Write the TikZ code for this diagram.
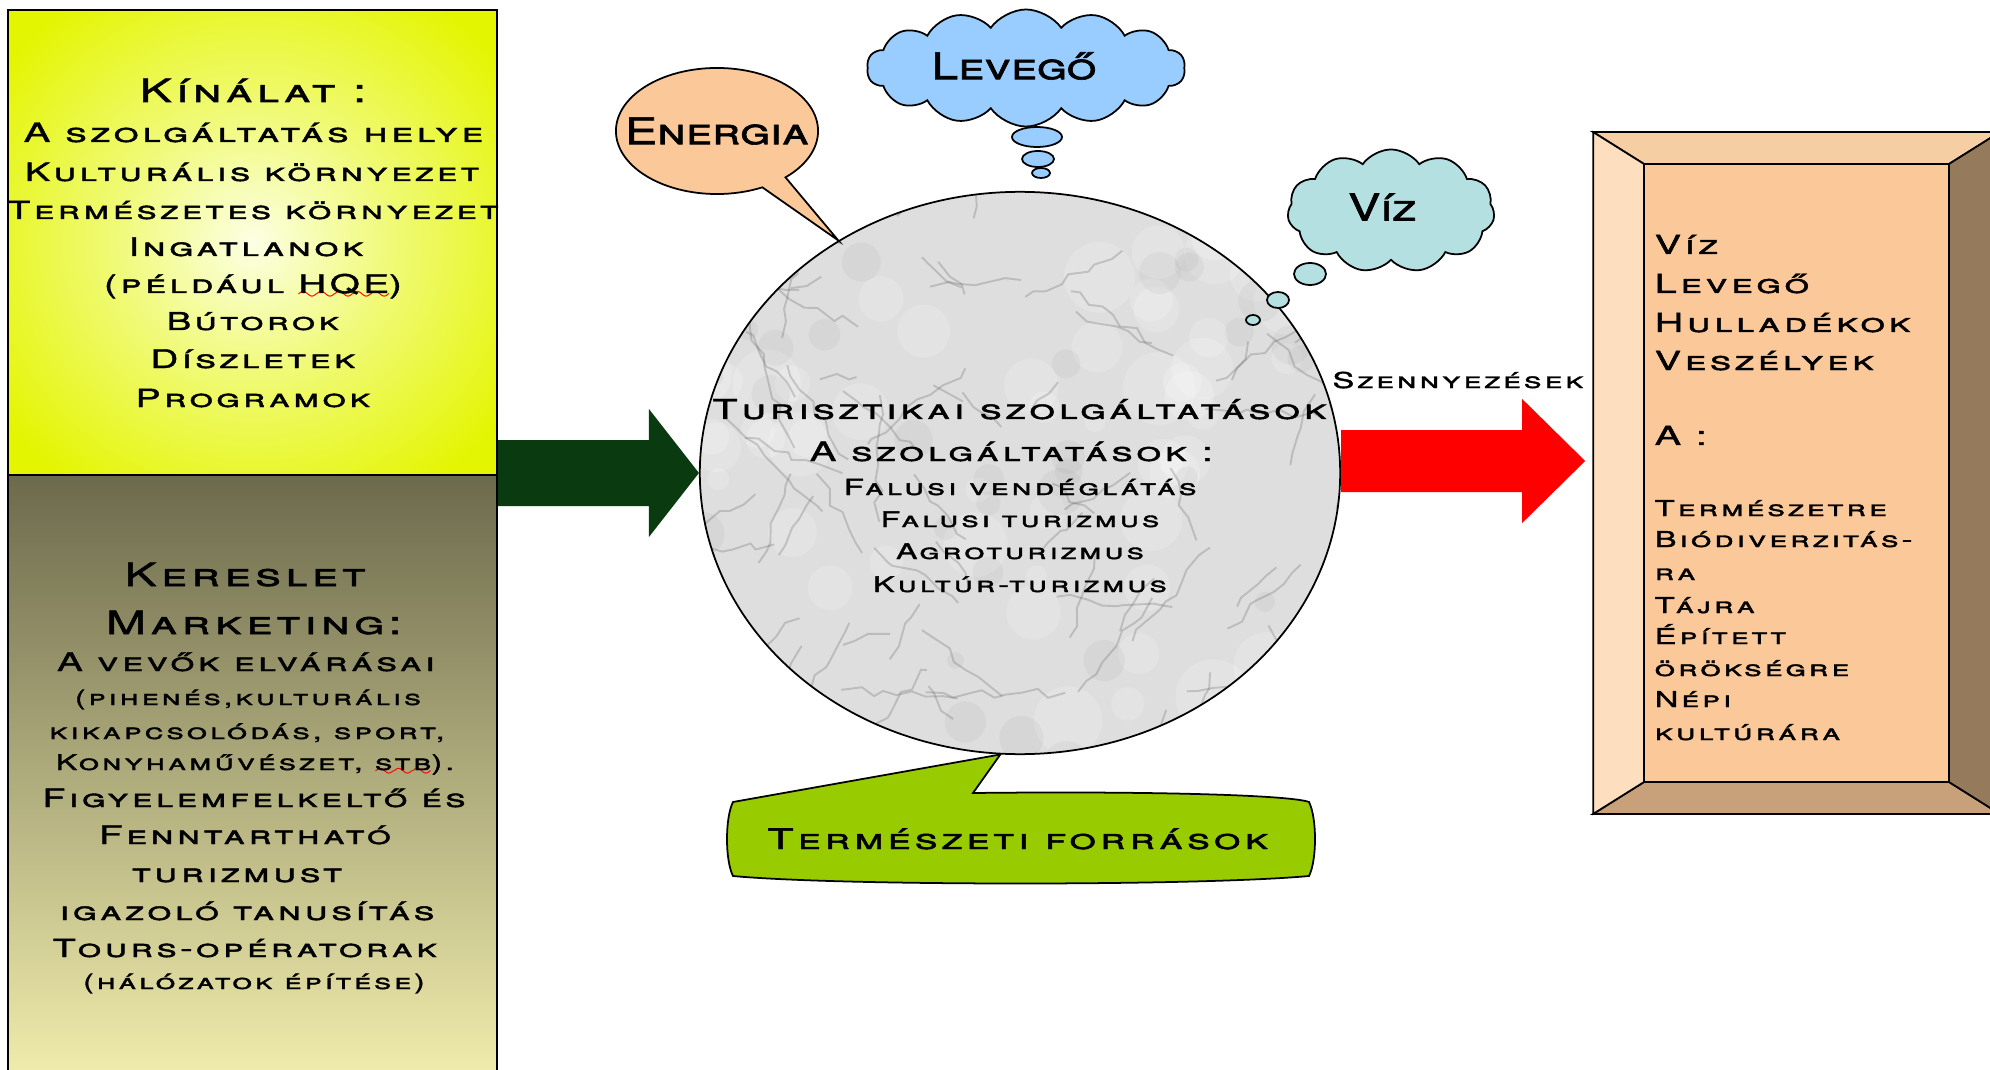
\documentclass[tikz,border=0pt]{standalone}
\usepackage{fontspec}
\usetikzlibrary{shapes.geometric,shapes.symbols,shapes.callouts,calc,decorations.pathmorphing}
\newfontfamily\capfont[Letters=SmallCaps,FakeStretch=1.5,LetterSpace=14,FakeBold=1.6]{TeX Gyre Heros}
\newfontfamily\bubfont[Letters=SmallCaps,FakeStretch=1.3,FakeBold=1.6]{TeX Gyre Heros}
\newcommand\Tsz[1]{\capfont\fontsize{#1}{9}\selectfont}
\newcommand\Tbig{\Tsz{9.1}}
\newcommand\Tmid{\Tsz{7.5}}
\newcommand\Treg{\Tsz{7.3}}
\newcommand\Trs{\Tsz{6.2}}
\newcommand\Tsml{\Tsz{6.0}}
\newcommand\Tbub{\bubfont\fontsize{10.5}{12}\selectfont}
\font\wavefnt=lasy6
\newsavebox\wavebox
\newcommand\redwave[1]{\sbox\wavebox{#1}\rlap{\smash{\color{red}\lower1.8pt\hbox to \wd\wavebox{\xleaders\hbox{\wavefnt\char58}\hfil}}}\usebox\wavebox}
\definecolor{ylight}{RGB}{252,255,228}
\definecolor{ymid}{RGB}{240,250,120}
\definecolor{ycol}{RGB}{228,245,0}
\definecolor{olA}{RGB}{108,106,76}
\definecolor{olB}{RGB}{190,186,128}
\definecolor{olC}{RGB}{240,236,172}
\definecolor{dgreen}{RGB}{10,58,16}
\definecolor{peach}{RGB}{251,201,153}
\definecolor{skyc}{RGB}{153,204,255}
\definecolor{tealc}{RGB}{180,224,226}
\definecolor{limec}{RGB}{153,204,0}
\definecolor{fleft}{RGB}{253,222,190}
\definecolor{ftop}{RGB}{246,206,164}
\definecolor{fbot}{RGB}{200,160,122}
\definecolor{fright}{RGB}{150,122,92}
\definecolor{marble}{RGB}{222,222,222}
\pgfdeclareradialshading{yelrad}{\pgfpoint{0bp}{0bp}}{color(0bp)=(ylight); color(14bp)=(ymid); color(32bp)=(ycol); color(50bp)=(ycol)}
\begin{document}
\begin{tikzpicture}[x=0.01cm,y=-0.01cm,
  tx/.style={anchor=base,inner sep=0pt},
  txl/.style={anchor=base west,inner sep=0pt},
  outl/.style={draw=black,line width=0.5pt},
  bub/.style={ellipse,outl,inner sep=0pt}]
\useasboundingbox (0,0) rectangle (1990,1070);
\fill[white] (0,0) rectangle (1990,1070);

% left boxes
\node[shade,shading=yelrad,draw=black,line width=0.6pt,minimum width=4.89cm,minimum height=4.65cm,inner sep=0pt] (topbox) at (252.5,242.5) {};
\node[shade,top color=olA,middle color=olB,bottom color=olC,draw=black,line width=0.6pt,minimum width=4.89cm,minimum height=6.0cm,inner sep=0pt] (botbox) at (252.5,775) {};

% central ellipse with marble texture
\begin{scope}
\clip (1020,473) ellipse [x radius=3.2cm, y radius=2.81cm];
\fill[marble] (690,180) rectangle (1350,770);
\pgfmathsetseed{21}
\foreach \i in {1,...,60}{
  \pgfmathsetmacro{\ax}{690+660*rnd}
  \pgfmathsetmacro{\ay}{180+590*rnd}
  \pgfmathsetmacro{\ar}{(10+30*rnd)*0.2845}
  \fill[white,opacity=0.18] (\ax,\ay) circle [radius=\ar pt];
}
\foreach \i in {1,...,40}{
  \pgfmathsetmacro{\ax}{690+660*rnd}
  \pgfmathsetmacro{\ay}{180+590*rnd}
  \pgfmathsetmacro{\ar}{(6+18*rnd)*0.2845}
  \fill[gray,opacity=0.08] (\ax,\ay) circle [radius=\ar pt];
}
\foreach \i in {1,...,80}{
  \pgfmathsetmacro{\ax}{690+660*rnd}
  \pgfmathsetmacro{\ay}{180+590*rnd}
  \pgfmathsetmacro{\ang}{360*rnd}
  \pgfmathsetmacro{\len}{30+110*rnd}
  \draw[gray!70!black,opacity=0.25,line width=0.55pt,decorate,decoration={random steps,segment length=4pt,amplitude=1.5pt}] (\ax,\ay) -- ++(\ang:\len);
}
\end{scope}
\node[ellipse,outl,minimum width=6.4cm,minimum height=5.62cm,inner sep=0pt] (svc) at (1020,473) {};

% right frame
\node[minimum width=4.05cm,minimum height=6.8cm,inner sep=0pt] (frame) at (1796.5,473) {};
\coordinate (O1) at (frame.north west);
\coordinate (O2) at (frame.north east);
\coordinate (O3) at (frame.south east);
\coordinate (O4) at (frame.south west);
\coordinate (I1) at ($(O1)+(51,32)$);
\coordinate (I2) at ($(O2)+(-51,32)$);
\coordinate (I3) at ($(O3)+(-51,-32)$);
\coordinate (I4) at ($(O4)+(51,-32)$);
\filldraw[fill=ftop,outl] (O1) -- (O2) -- (I2) -- (I1) -- cycle;
\filldraw[fill=fbot,outl] (O4) -- (O3) -- (I3) -- (I4) -- cycle;
\filldraw[fill=fleft,outl] (O1) -- (I1) -- (I4) -- (O4) -- cycle;
\filldraw[fill=fright,outl] (O2) -- (I2) -- (I3) -- (O3) -- cycle;
\filldraw[fill=peach,outl] (I1) rectangle (I3);

% green arrow
\coordinate (gtip) at (svc.west);
\coordinate (gbase) at (topbox.east |- gtip);
\fill[dgreen] ($(gbase)+(0,-33)$) -- ($(gtip)+(-50,-33)$) -- ($(gtip)+(-50,-64)$) -- (gtip)
  -- ($(gtip)+(-50,64)$) -- ($(gtip)+(-50,33)$) -- ($(gbase)+(0,33)$) -- cycle;

% red arrow
\coordinate (rstart) at ($(svc.east)+(0,-12)$);
\coordinate (rtip) at ($(frame.west |- rstart)+(-8,0)$);
\fill[red] ($(rstart)+(0,-31)$) -- ($(rtip)+(-63,-31)$) -- ($(rtip)+(-63,-62)$) -- (rtip)
  -- ($(rtip)+(-63,62)$) -- ($(rtip)+(-63,31)$) -- ($(rstart)+(0,31)$) -- cycle;

% Energia callout
\node[ellipse callout,outl,fill=peach,minimum width=2.02cm,minimum height=1.26cm,inner sep=0pt,
  callout absolute pointer={(svc.128)},callout pointer arc=16] (en) at (717,131) {};
\node[inner sep=0pt] (entx) at (en.center) {\Tbub Energia};

% Levegő cloud
\node[cloud,outl,fill=skyc,cloud puffs=14,cloud puff arc=110,cloud ignores aspect,
  minimum width=3.18cm,minimum height=1.17cm,inner sep=0pt] (lev) at (1026,68) {};
\node[inner sep=0pt] (levtx) at (1014,66) {\Tbub Levegő};
\node[bub,fill=skyc,minimum width=0.5cm,minimum height=0.2cm] (lb1) at (1037,137) {};
\node[bub,fill=skyc,minimum width=0.32cm,minimum height=0.16cm] (lb2) at (1038,159) {};
\node[bub,fill=skyc,minimum width=0.18cm,minimum height=0.1cm] (lb3) at (1041,173) {};

% Víz cloud
\node[cloud,outl,fill=tealc,cloud puffs=11,cloud puff arc=110,cloud ignores aspect,
  minimum width=2.07cm,minimum height=1.23cm,inner sep=0pt] (viz) at (1391,211) {};
\node[inner sep=0pt] (viztx) at (1382,207) {\Tbub Víz};
\node[bub,fill=tealc,minimum width=0.32cm,minimum height=0.22cm] (vb1) at (1310,274) {};
\node[bub,fill=tealc,minimum width=0.22cm,minimum height=0.16cm] (vb2) at (1278,300) {};
\node[bub,fill=tealc,minimum width=0.14cm,minimum height=0.1cm] (vb3) at (1253,320) {};

% Természeti források banner
\filldraw[fill=limec,outl] (733,802) -- (svc.-94) -- (973,793)
  .. controls (1150,791) and (1290,795) .. (1309,802)
  .. controls (1317,818) and (1317,860) .. (1309,876)
  .. controls (1200,886) and (840,886) .. (733,876)
  .. controls (725,860) and (725,818) .. (733,802) -- cycle;
\node[tx] (tf) at (1010,849) {\Tsz{8.1} Természeti források};

% texts: top box
\node[tx] (k1) at (253,102) {\Tbig Kínálat :};
\node[tx] (k2) at (246,142) {\Tsz{7.6} A szolgáltatás helye};
\node[tx] (k3) at (245,181) {\Tsz{7.15} Kulturális környezet};
\node[tx] (k4) at (246,219) {\Tsz{7.1} Természetes környezet};
\node[tx] (k5) at (246,256) {\Treg Ingatlanok};
\node[tx] (k6) at (253,293) {\Treg (például \redwave{HQE})};
\node[tx] (k7) at (246,330) {\Tsz{7.0} Bútorok};
\node[tx] (k8) at (253,368) {\Treg Díszletek};
\node[tx] (k9) at (246,407) {\Tsz{7.1} Programok};

% texts: bottom box
\node[tx] (d1) at (245,586) {\Tbig Kereslet};
\node[tx] (d2) at (254,634) {\Tbig Marketing:};
\node[tx] (d3) at (246,671) {\Treg A vevők elvárásai};
\node[tx] (d4) at (248,705) {\Tsml (pihenés,kulturális};
\node[tx] (d5) at (241,739) {\Tsz{6.15} kikapcsolódás, sport,};
\node[tx] (d6) at (249,770) {\Tsz{6.15} Konyhaművészet, \redwave{stb}).};
\node[tx] (d7) at (247,807) {\Tsz{7.15} Figyelemfelkeltő és};
\node[tx] (d8) at (245,844) {\Treg Fenntartható};
\node[tx] (d9) at (237,882) {\Treg turizmust};
\node[tx] (d10) at (247,920) {\Treg igazoló tanusítás};
\node[tx] (d11) at (238,957) {\Tsz{7.1} Tours-opératorak};
\node[tx] (d12) at (254,989) {\Tsml (hálózatok építése)};

% texts: centre
\node[tx] (c1) at (1012,419) {\Tsz{7.8} Turisztikai szolgáltatások};
\node[tx] (c2) at (1004,461) {\Tsz{7.55} A szolgáltatások :};
\node[tx] (c3) at (1014,495) {\Tsz{6.3} Falusi vendéglátás};
\node[tx] (c4) at (1014,527) {\Tsz{6.1} Falusi turizmus};
\node[tx] (c5) at (1014,559) {\Tsz{6.1} Agroturizmus};
\node[tx] (c6) at (1014,592) {\Tsz{6.1} Kultúr-turizmus};

\node[tx] (sz) at (1458,388) {\Trs Szennyezések};

% texts: right frame
\node[txl] (r1) at (1654,254) {\Tmid Víz};
\node[txl] (r2) at (1654,293) {\Tmid Levegő};
\node[txl] (r3) at (1654,332) {\Tmid Hulladékok};
\node[txl] (r4) at (1654,370) {\Tmid Veszélyek};
\node[txl] (r5) at (1654,445) {\Tmid A :};
\node[txl] (r6) at (1654,516) {\Trs Természetre};
\node[txl] (r7) at (1654,547) {\Trs Biódiverzitás-};
\node[txl] (r8) at (1654,580) {\Trs ra};
\node[txl] (r9) at (1654,613) {\Trs Tájra};
\node[txl] (r10) at (1654,644) {\Trs Épített};
\node[txl] (r11) at (1654,676) {\Trs örökségre};
\node[txl] (r12) at (1654,707) {\Trs Népi};
\node[txl] (r13) at (1654,740) {\Trs kultúrára};
\end{tikzpicture}
\end{document}
